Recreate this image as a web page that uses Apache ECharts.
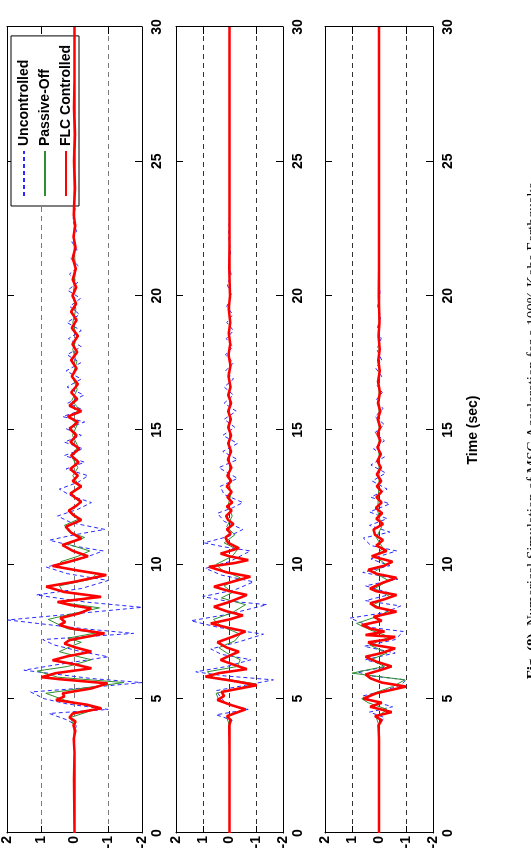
<!DOCTYPE html>
<html>
<head>
<meta charset="utf-8">
<script src="https://cdn.jsdelivr.net/npm/echarts@6/dist/echarts.min.js"></script>
<style>
html,body{margin:0;padding:0;background:#fff;overflow:hidden;width:531px;height:858px;}
#wrap{position:absolute;left:0;top:0;width:858px;height:531px;transform-origin:0 0;transform:translateY(858px) rotate(-90deg);background:#fff;}
</style>
</head>
<body>
<div id="wrap"></div>
<script>
// ---- data: [time (s), response] ----
const timeTicks = [0, 5, 10, 15, 20, 25, 30];
const ampTicks = [2, 1, 0, -1, -2];
const seriesNames = ['Uncontrolled', 'Passive-Off', 'FLC Controlled'];
const timeLabel = 'Time (sec)';
const caption = 'Numerical Simulation of MSC Acceleration for a 100% Kobe Earthquake.';

// Panel 1
const p1Unc = [[0,0],[3.0,0],[3.5,0.02],[4.0,-0.05],[4.2,0.2],[4.45,0.75],[4.6,-1.0],[4.8,0.2],[5.0,0.9],[5.25,1.3],[5.4,-0.3],[5.6,-2.0],[5.75,-0.5],[6.06,1.5],[6.25,0.6],[6.56,-1.0],[6.75,-0.2],[7.0,0.6],[7.2,0.94],[7.43,-1.75],[7.6,-0.3],[7.93,1.98],[8.1,0.5],[8.4,-2.0],[8.6,-0.3],[8.86,1.13],[9.1,-0.2],[9.4,-1.0],[9.65,0.2],[9.9,0.84],[10.2,-0.2],[10.5,-0.85],[10.7,0.1],[10.9,0.75],[11.1,0.0],[11.3,-0.9],[11.55,0.1],[11.8,0.5],[12.05,-0.1],[12.3,-0.5],[12.55,0.1],[12.8,0.45],[13.05,-0.1],[13.3,-0.4],[13.55,0.25],[13.8,-0.3],[14.05,0.3],[14.3,-0.25],[14.55,0.3],[14.8,-0.2],[15.05,0.25],[15.3,-0.3],[15.5,0.35],[15.75,-0.25],[16.0,0.2],[16.3,-0.28],[16.6,0.22],[16.9,-0.2],[17.2,0.25],[17.5,-0.18],[17.8,0.22],[18.1,-0.2],[18.4,0.18],[18.7,-0.2],[19.0,0.22],[19.3,-0.15],[19.6,0.14],[19.9,-0.18],[20.2,0.2],[20.5,-0.1],[20.8,0.15],[21.1,-0.12],[21.4,0.12],[21.7,-0.08],[22.0,0.08],[22.4,-0.06],[22.8,0.05],[23.3,-0.03],[24,0.02],[25,0],[30,0]];
const p1Pas = [[0,0],[3.0,0],[4.0,0.02],[4.3,0.12],[4.64,-0.7],[4.95,0.3],[5.2,0.85],[5.4,-0.3],[5.6,-1.46],[5.8,0.5],[6.03,1.1],[6.2,0.2],[6.45,-0.5],[6.6,0.0],[6.75,0.45],[6.95,0.1],[7.1,-0.2],[7.25,0.2],[7.45,-0.65],[7.6,0.2],[7.95,0.78],[8.15,0.1],[8.38,-0.74],[8.6,0.5],[8.8,-0.7],[9.0,0.35],[9.2,0.45],[9.45,-0.5],[9.65,-0.65],[9.9,0.5],[10.1,0.4],[10.3,-0.1],[10.5,-0.45],[10.75,0.2],[11.0,-0.3],[11.2,0.15],[11.45,0.3],[11.7,-0.15],[12.0,0.15],[12.3,-0.18],[12.6,0.1],[12.9,-0.15],[13.3,0.05],[13.6,-0.1],[14.0,0.08],[14.4,-0.1],[14.8,0.06],[15.2,-0.08],[15.5,0.15],[15.75,-0.15],[16.1,0.08],[16.5,-0.08],[17.0,0.06],[17.5,-0.06],[18.0,0.05],[18.5,-0.06],[19.0,0.05],[19.5,-0.04],[20.0,0.04],[21.0,-0.03],[22.0,0.02],[23,0],[30,0]];
const p1Flc = [[0,0],[2.0,0.01],[3.0,0],[3.5,0.02],[3.8,-0.02],[4.0,0.03],[4.15,-0.03],[4.3,0.15],[4.45,0.05],[4.64,-0.79],[4.78,-0.35],[4.95,0.55],[5.08,0.3],[5.2,0.35],[5.38,-0.5],[5.57,-0.98],[5.72,0.4],[5.8,0.98],[5.95,0.55],[6.13,-0.5],[6.28,0.0],[6.43,0.65],[6.58,0.2],[6.75,-0.5],[6.9,-0.05],[7.05,0.3],[7.18,0.15],[7.43,-0.89],[7.6,0.05],[7.74,0.45],[7.85,0.28],[8.0,0.42],[8.18,-0.15],[8.36,-0.5],[8.48,0.1],[8.6,0.5],[8.79,-0.79],[8.97,0.3],[9.17,0.84],[9.35,0.0],[9.6,-0.94],[9.77,-0.1],[9.94,0.65],[10.1,0.15],[10.3,-0.4],[10.5,0.05],[10.72,0.36],[10.96,-0.2],[11.18,0.1],[11.4,0.26],[11.65,-0.2],[11.85,0.05],[12.0,0.17],[12.18,-0.05],[12.33,-0.2],[12.5,0.0],[12.64,0.12],[12.9,-0.2],[13.1,0.05],[13.3,-0.1],[13.55,0.12],[13.8,-0.12],[14.05,0.1],[14.3,-0.14],[14.55,0.12],[14.8,-0.06],[15.05,0.14],[15.3,-0.1],[15.5,0.2],[15.7,-0.2],[15.9,0.15],[16.15,-0.08],[16.4,0.1],[16.7,-0.1],[17.0,0.08],[17.3,-0.06],[17.6,0.1],[17.9,-0.08],[18.2,0.06],[18.5,-0.1],[18.8,0.08],[19.1,-0.06],[19.4,0.1],[19.7,-0.05],[20.0,0.06],[20.3,-0.05],[20.6,0.05],[21.0,-0.04],[21.4,0.05],[21.8,-0.03],[22.2,0.03],[22.6,-0.02],[23.0,0.02],[24.0,-0.01],[25,0.01],[26.0,-0.01],[27.0,0.01],[28.0,0],[30,0]];

// Panel 2
const p2Unc = [[0,0],[3.5,0],[4.0,0.03],[4.2,-0.1],[4.4,0.5],[4.6,-0.7],[4.8,0.1],[5.0,0.3],[5.3,0.5],[5.5,-0.6],[5.7,-1.64],[5.85,0.2],[6.0,1.26],[6.2,0.1],[6.45,-0.8],[6.65,0.3],[6.85,0.7],[7.1,-0.3],[7.4,-1.27],[7.65,0.4],[7.9,1.44],[8.15,0.0],[8.5,-1.4],[8.65,0.2],[8.8,1.0],[9.05,-0.2],[9.35,-0.9],[9.6,0.3],[9.85,0.9],[10.1,0.0],[10.5,-0.78],[10.65,0.2],[10.8,0.95],[11.05,0.0],[11.3,-0.5],[11.6,0.2],[11.9,0.45],[12.1,-0.1],[12.3,-0.5],[12.6,0.2],[12.9,0.35],[13.2,-0.3],[13.6,0.4],[13.9,-0.3],[14.2,0.25],[14.5,-0.3],[14.8,0.25],[15.1,-0.2],[15.4,0.2],[15.7,-0.25],[16.0,0.2],[16.3,-0.15],[16.6,0.2],[16.9,-0.15],[17.2,0.15],[17.5,-0.15],[17.8,0.15],[18.1,-0.12],[18.4,0.12],[18.7,-0.15],[19.0,0.1],[19.3,-0.12],[19.6,0.1],[20.0,-0.08],[20.4,0.08],[20.8,-0.06],[21.2,0.05],[21.6,-0.04],[22.2,0.03],[23,0],[30,0]];
const p2Pas = [[0,0],[4.0,0],[4.3,0.1],[4.6,-0.5],[4.95,0.4],[5.2,0.5],[5.55,-1.0],[5.8,0.6],[6.0,0.83],[6.2,-0.3],[6.45,-0.4],[6.7,0.1],[6.9,0.4],[7.15,-0.2],[7.4,-0.4],[7.7,0.3],[7.95,0.6],[8.2,-0.1],[8.5,-0.6],[8.75,0.3],[8.95,-0.1],[9.2,0.2],[9.5,-0.4],[9.8,0.3],[10.0,0.5],[10.3,-0.1],[10.55,-0.3],[10.8,0.2],[11.1,-0.2],[11.4,0.1],[11.8,-0.1],[12.2,0.05],[12.6,-0.05],[13,0],[30,0]];
const p2Flc = [[0,0],[3.0,0],[4.0,0.01],[4.2,-0.05],[4.35,0.1],[4.6,-0.6],[4.75,-0.1],[4.95,0.45],[5.1,0.2],[5.25,0.3],[5.5,-1.02],[5.65,-0.2],[5.82,0.9],[5.95,0.4],[6.1,-0.65],[6.25,-0.2],[6.44,0.33],[6.6,0.0],[6.75,-0.35],[6.9,0.1],[7.1,0.45],[7.3,-0.1],[7.5,-0.6],[7.65,0.1],[7.8,0.7],[7.95,0.0],[8.1,-0.5],[8.25,0.1],[8.42,0.58],[8.6,0.0],[8.86,-0.65],[9.0,0.0],[9.17,0.58],[9.35,-0.1],[9.54,-0.78],[9.7,0.1],[9.91,0.77],[10.05,-0.2],[10.16,-0.7],[10.3,0.0],[10.4,0.33],[10.6,-0.35],[10.8,0.05],[11.0,0.15],[11.15,-0.05],[11.3,0.1],[11.5,-0.15],[11.65,0.05],[11.8,0.12],[12.0,-0.08],[12.15,0.1],[12.3,-0.1],[12.5,0.08],[12.7,-0.08],[12.9,0.1],[13.1,-0.06],[13.3,0.08],[13.6,-0.07],[13.9,0.06],[14.2,-0.06],[14.5,0.05],[14.8,-0.06],[15.1,0.05],[15.4,-0.05],[15.7,0.05],[16.0,-0.06],[16.3,0.05],[16.6,-0.04],[17.0,0.04],[17.4,-0.04],[17.8,0.04],[18.2,-0.03],[18.6,0.03],[19.0,-0.03],[19.5,0.03],[20.0,-0.02],[21,0.01],[22,0],[30,0]];

// Panel 3
const p3Unc = [[0,0],[3.5,0],[4.0,0.03],[4.3,-0.2],[4.5,0.35],[4.7,-0.5],[4.9,0.2],[5.1,0.6],[5.3,-0.2],[5.5,-0.8],[5.7,-1.0],[5.85,0.3],[6.0,0.8],[6.2,-0.4],[6.45,0.5],[6.7,-0.6],[6.95,0.55],[7.2,-0.6],[7.5,-0.9],[7.65,0.3],[7.8,0.6],[8.0,1.07],[8.2,-0.2],[8.45,-0.8],[8.65,0.5],[8.9,-0.5],[9.2,0.5],[9.45,-0.7],[9.7,0.6],[9.95,-0.4],[10.2,0.3],[10.5,-0.65],[10.7,0.3],[10.98,0.58],[11.2,-0.4],[11.45,0.35],[11.7,-0.3],[11.95,0.35],[12.25,-0.4],[12.5,0.3],[12.8,-0.3],[13.1,0.25],[13.4,-0.25],[13.7,0.3],[14.0,-0.2],[14.3,0.2],[14.6,-0.2],[14.9,0.15],[15.2,-0.2],[15.5,0.15],[15.8,-0.15],[16.1,0.12],[16.4,-0.12],[16.7,0.1],[17.0,-0.1],[17.3,0.12],[17.6,-0.1],[18.0,0.08],[18.4,-0.08],[18.8,0.06],[19.2,-0.06],[19.6,0.05],[20.0,-0.04],[21,0.02],[22,0],[30,0]];
const p3Pas = [[0,0],[4.0,0],[4.3,0.1],[4.6,-0.3],[4.85,0.4],[5.0,0.64],[5.2,0.2],[5.45,-0.5],[5.7,-0.96],[5.95,1.0],[6.2,-0.2],[6.45,0.3],[6.7,-0.3],[7.0,0.35],[7.3,-0.4],[7.55,0.3],[7.8,0.83],[8.05,0.1],[8.25,-0.35],[8.5,0.2],[8.8,-0.4],[9.1,0.15],[9.4,-0.35],[9.7,0.2],[10.0,-0.25],[10.3,0.15],[10.6,-0.15],[11.0,0.1],[11.4,-0.1],[12.0,0.05],[13,0],[30,0]];
const p3Flc = [[0,0],[3.5,0],[4.0,0.02],[4.2,-0.1],[4.35,0.15],[4.5,-0.47],[4.7,0.33],[4.85,-0.1],[5.0,0.58],[5.2,0.1],[5.45,-1.0],[5.6,-0.1],[5.75,0.3],[5.9,0.5],[6.05,0.0],[6.2,-0.47],[6.38,0.1],[6.56,0.5],[6.7,-0.1],[6.87,-0.6],[7.0,0.2],[7.1,0.4],[7.2,-0.3],[7.3,-0.6],[7.37,0.5],[7.5,-0.2],[7.6,0.3],[7.74,0.64],[7.9,-0.1],[8.05,0.2],[8.24,-0.65],[8.4,0.1],[8.55,0.33],[8.7,-0.2],[8.86,-0.65],[9.0,0.1],[9.1,0.33],[9.3,-0.1],[9.5,-0.65],[9.65,0.1],[9.8,0.4],[9.95,-0.2],[10.1,-0.5],[10.3,0.27],[10.5,-0.28],[10.7,0.1],[10.9,-0.15],[11.1,0.15],[11.3,0.2],[11.5,-0.15],[11.7,0.1],[11.9,-0.12],[12.1,0.12],[12.3,-0.1],[12.5,0.1],[12.7,-0.1],[12.9,0.08],[13.1,-0.08],[13.35,0.08],[13.6,-0.07],[13.85,0.06],[14.1,-0.07],[14.35,0.06],[14.6,-0.05],[14.85,0.06],[15.1,-0.05],[15.4,0.05],[15.7,-0.05],[16.0,0.04],[16.4,-0.04],[16.8,0.04],[17.2,-0.03],[17.6,0.03],[18.0,-0.03],[18.5,0.02],[19,-0.02],[20,0.01],[21,0],[30,0]];

const panels = [[p1Unc, p1Pas, p1Flc], [p2Unc, p2Pas, p2Flc], [p3Unc, p3Pas, p3Flc]];

// ---- layout & style ----
const grids = [
  {left: 25, width: 806, top: 3, height: 139},
  {left: 25, width: 806, top: 176, height: 107},
  {left: 25, width: 806, top: 325, height: 108}
];
const gridDash = ['#7a7a7a', '#333', '#333'];
const FONT = {fontFamily: 'Liberation Sans, Arial, sans-serif', fontWeight: 'bold', fontSize: 14, color: '#000'};
const lineStyles = [
  {color: '#2a2aff', width: 1, type: [4, 3]},
  {color: '#2f8f2f', width: 1, type: 'solid'},
  {color: '#ff0000', width: 2.6, type: 'solid'}
];

const xAxes = [], yAxes = [], series = [];
grids.forEach((g, i) => {
  const tMin = timeTicks[0], tMax = timeTicks[timeTicks.length - 1];
  const aMin = ampTicks[ampTicks.length - 1], aMax = ampTicks[0];
  const common = {type: 'value', gridIndex: i, min: tMin, max: tMax, interval: 5,
    axisLine: {show: true, onZero: false, lineStyle: {color: '#000', width: 1}},
    axisTick: {show: true, inside: true, length: 7, lineStyle: {color: '#000'}},
    splitLine: {show: false}};
  xAxes.push(Object.assign({}, common, {position: 'bottom',
    axisLabel: Object.assign({show: true, margin: 8}, FONT),
    name: i === 2 ? timeLabel : '', nameLocation: 'middle', nameGap: 33,
    nameTextStyle: FONT}));
  xAxes.push(Object.assign({}, common, {position: 'top', axisLabel: {show: false}}));
  const ycommon = {type: 'value', gridIndex: i, min: aMin, max: aMax, interval: 1,
    axisLine: {show: true, onZero: false, lineStyle: {color: '#000', width: 1}},
    axisTick: {show: true, inside: true, length: 7, lineStyle: {color: '#000'}}};
  yAxes.push(Object.assign({}, ycommon, {position: 'left',
    axisLabel: Object.assign({show: true, margin: 3}, FONT),
    splitLine: {show: true, lineStyle: {color: gridDash[i], width: 1, type: [5, 4]}}}));
  yAxes.push(Object.assign({}, ycommon, {position: 'right', axisLabel: {show: false}, splitLine: {show: false}}));
  panels[i].forEach((d, k) => {
    series.push({type: 'line', name: seriesNames[k], xAxisIndex: 2 * i, yAxisIndex: 2 * i,
      data: d, symbol: 'none', showSymbol: false, smooth: false, clip: true,
      lineStyle: lineStyles[k], itemStyle: {color: lineStyles[k].color},
      z: 2 + k, silent: true});
  });
});

const chart = echarts.init(document.getElementById('wrap'), null, {renderer: 'canvas', width: 858, height: 531});
chart.setOption({
  animation: false,
  backgroundColor: '#fff',
  grid: grids,
  xAxis: xAxes,
  yAxis: yAxes,
  legend: {
    data: seriesNames, orient: 'vertical', left: 652, top: 11,
    itemWidth: 45, itemHeight: 14, itemGap: 7, padding: [6, 9, 6, 9],
    backgroundColor: '#fff', borderColor: '#000', borderWidth: 1,
    itemStyle: {opacity: 0, borderWidth: 0},
    textStyle: FONT, selectedMode: false
  },
  graphic: [{
    type: 'text', left: 'center', top: 526,
    style: {
      text: '{b|Fig. (8).} ' + caption,
      font: '15px "Liberation Serif", serif', fill: '#000',
      rich: {b: {fontWeight: 'bold', fontFamily: 'Liberation Serif, serif', fontSize: 15}}
    }
  }],
  series: series
});
</script>
</body>
</html>
